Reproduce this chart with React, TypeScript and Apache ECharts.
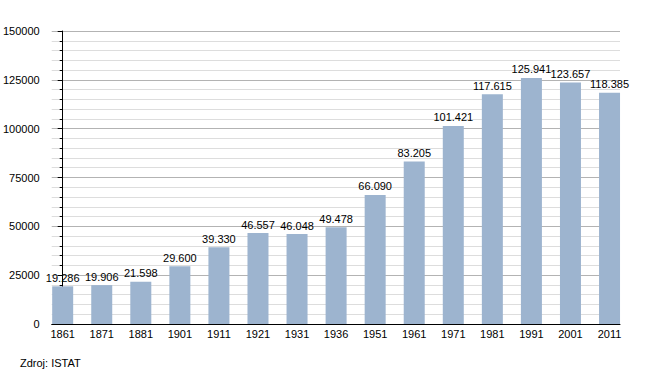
import React, { useEffect, useRef } from "react";
import * as echarts from "echarts";

const years = ["1861", "1871", "1881", "1901", "1911", "1921", "1931", "1936", "1951", "1961", "1971", "1981", "1991", "2001", "2011"];
const population = [19286, 19906, 21598, 29600, 39330, 46557, 46048, 49478, 66090, 83205, 101421, 117615, 125941, 123657, 118385];
const yTicks = [0, 25000, 50000, 75000, 100000, 125000, 150000];

const fmt = (v: number) => String(v).replace(/\B(?=(\d{3})+(?!\d))/g, ".");

export default function App() {
  const ref = useRef<HTMLDivElement>(null);
  useEffect(() => {
    if (!ref.current) return;
    const chart = echarts.init(ref.current, undefined, { renderer: "svg" });
    const font = "Liberation Sans, Arial, sans-serif";
    chart.setOption({
      animation: false,
      backgroundColor: "#ffffff",
      grid: { left: 50, right: 30, top: 31, bottom: 49, containLabel: false },
      xAxis: {
        type: "value",
        min: -0.281,
        max: 14.268,
        axisLine: { show: true, onZero: false, lineStyle: { color: "#000", width: 1 } },
        axisTick: { show: false },
        splitLine: { show: false },
        axisLabel: {
          customValues: years.map((_, i) => i),
          formatter: (v: number) => years[Math.round(v)] ?? "",
          color: "#000",
          fontSize: 11,
          fontFamily: font,
          margin: 4,
        },
      },
      yAxis: {
        type: "value",
        min: 0,
        max: 150000,
        interval: 25000,
        axisLine: { show: true, lineStyle: { color: "#000", width: 1 } },
        axisTick: { show: true, length: 5, lineStyle: { color: "#000" } },
        minorTick: { show: true, splitNumber: 5, length: 3, lineStyle: { color: "#000" } },
        splitLine: { show: true, lineStyle: { color: "#b3b3b3", width: 1 } },
        minorSplitLine: { show: true, lineStyle: { color: "#dddddd", width: 1 } },
        axisLabel: {
          color: "#000",
          fontSize: 11,
          fontFamily: font,
          margin: 12,
          formatter: (v: number) => (yTicks.includes(v) ? String(v) : ""),
        },
      },
      series: [
        {
          type: "bar",
          data: population.map((v, i) => [i, v]),
          barWidth: 21,
          clip: false,
          itemStyle: { color: "#9db4cf" },
          label: {
            show: true,
            position: "top",
            distance: 3,
            color: "#000",
            fontSize: 11,
            fontFamily: font,
            formatter: (p: any) => fmt(p.value[1]),
          },
        },
      ],
      graphic: [
        {
          type: "text",
          left: 20,
          top: 357,
          style: { text: "Zdroj: ISTAT", fill: "#000", font: `11px ${font}` },
        },
      ],
    });
    return () => chart.dispose();
  }, []);
  return <div ref={ref} style={{ width: 650, height: 373, position: "absolute", left: 0, top: 0 }} />;
}
